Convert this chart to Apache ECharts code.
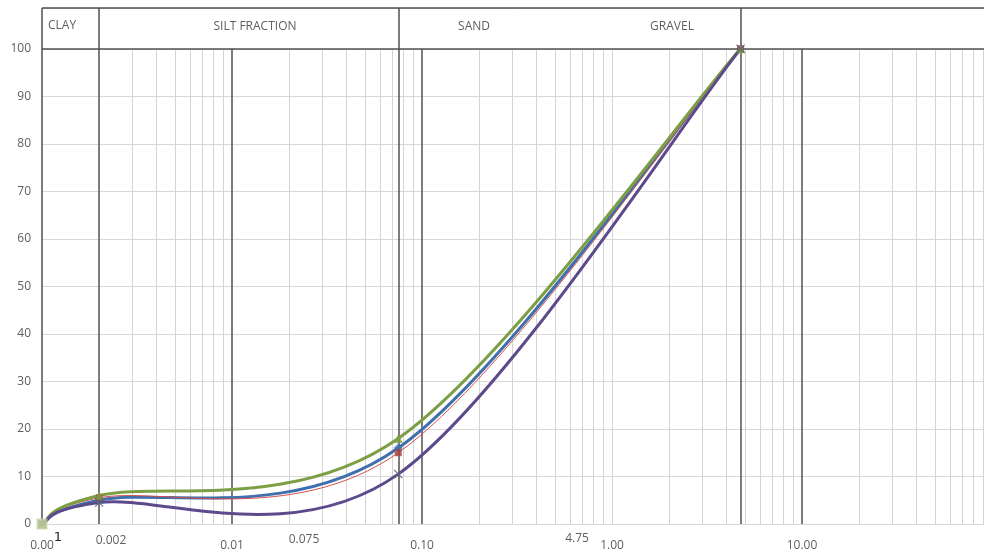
<!DOCTYPE html>
<html><head><meta charset="utf-8">
<script src="https://cdn.jsdelivr.net/npm/echarts@6.0.0/dist/echarts.min.js"></script>
<style>html,body{margin:0;padding:0;background:#fff}#c{width:984px;height:553px}</style>
</head><body><div id="c"></div>
<script>
// ---- data ----
const grainSizes = [0.001, 0.002, 0.075, 4.75];
const sampleBlue = [0, 5, 16, 100];
const sampleRed = [0, 5.5, 15, 100];
const sampleGreen = [0, 6, 18, 100];
const samplePurple = [0, 4.5, 10.5, 100];
const originPoint = [0.001, 0];
const xTickLabels = ['0.00', '0.01', '0.10', '1.00', '10.00', ''];
const extraXLabels = ['1', '0.002', '0.075', '4.75'];
const zoneLabels = ['CLAY', 'SILT FRACTION', 'SAND', 'GRAVEL'];
const zoneBounds = [0.001, 0.002, 0.075, 4.75];
const darkMajor = [0.01, 0.1, 10];
const decades = [0.001, 0.01, 0.1, 1, 10];
const headerTop = 108.6;

// ---- build ----
const pairs = vals => grainSizes.map((x, i) => [x, vals[i]]);
const gridLines = [];
const light = {color: '#d4d4d4', width: 1, type: 'solid'};
const dark = {color: '#505050', width: 1.5, type: 'solid'};
decades.forEach(d => {
  for (let m = 1; m <= 9; m++) {
    const x = +(m * d).toPrecision(3);
    if (zoneBounds.includes(x) || darkMajor.includes(x)) continue;
    gridLines.push([{coord: [x, 0], lineStyle: light}, {coord: [x, 100]}]);
  }
});
gridLines.push([{coord: [100, 0], lineStyle: light}, {coord: [100, 100]}]);
darkMajor.forEach(x => gridLines.push([{coord: [x, 0], lineStyle: dark}, {coord: [x, 100]}]));
zoneBounds.forEach(x => gridLines.push([{coord: [x, 0], lineStyle: dark}, {coord: [x, headerTop]}]));
gridLines.push([{coord: [0.001, 100], lineStyle: dark}, {coord: [100, 100]}]);
gridLines.push([{coord: [0.001, headerTop], lineStyle: dark}, {coord: [100, headerTop]}]);

// Smooth curve (spreadsheet-style cardinal bezier) through the data points, via the axes' scales
function smoothCurve(name, vals, color, width) {
  return {
    name, type: 'custom', data: pairs(vals), z: 3, silent: true, animation: false,
    encode: {x: 0, y: 1},
    renderItem: function (params, api) {
      const n = params.dataInsideLength;
      if (params.dataIndexInside !== 0) return null;
      const P = j => {
        j = Math.max(0, Math.min(n - 1, j));
        return api.coord([api.value(0, j), api.value(1, j)]);
      };
      const s = P(0);
      let d = 'M' + s[0] + ' ' + s[1];
      for (let i = 0; i < n - 1; i++) {
        const p0 = P(i - 1), p1 = P(i), p2 = P(i + 1), p3 = P(i + 2);
        d += ' C' + (p1[0] + (p2[0] - p0[0]) / 6) + ' ' + (p1[1] + (p2[1] - p0[1]) / 6) +
             ' ' + (p2[0] - (p3[0] - p1[0]) / 6) + ' ' + (p2[1] - (p3[1] - p1[1]) / 6) +
             ' ' + p2[0] + ' ' + p2[1];
      }
      return {
        type: 'path',
        shape: {pathData: d},
        style: {stroke: color, lineWidth: width, fill: null, lineJoin: 'round'}
      };
    }
  };
}
const xSym = 'path://M1,0L5,4L9,0L10,1L6,5L10,9L9,10L5,6L1,10L0,9L4,5L0,1Z';
function markers(name, vals, color, symbol, size) {
  return {
    name, type: 'scatter', data: pairs(vals), z: 4, symbol, symbolSize: size,
    itemStyle: {color}, animation: false, silent: true
  };
}

const txt = (text, x, y, align, extra) => ({
  type: 'text', x, y, z: 10,
  style: Object.assign({text, fill: '#5f5f5f', font: '12px "Open Sans"', align: align, verticalAlign: 'middle'}, extra || {})
});

const chart = echarts.init(document.getElementById('c'));
chart.setOption({
  backgroundColor: '#fff',
  animation: false,
  grid: {left: 42, right: -8, top: 8, bottom: 29, outerBoundsMode: 'none', containLabel: false},
  xAxis: {
    type: 'log', logBase: 10, min: 0.001, max: 100, splitNumber: 5,
    axisLine: {show: false}, axisTick: {show: false},
    splitLine: {show: false}, minorSplitLine: {show: false},
    axisLabel: {
      margin: 16, color: '#5f5f5f', fontSize: 12, fontFamily: 'Open Sans',
      formatter: v => xTickLabels[Math.round(Math.log10(v)) + 3] || ''
    }
  },
  yAxis: {
    type: 'value', min: 0, max: headerTop, interval: 10,
    axisLine: {show: false}, axisTick: {show: false},
    splitLine: {lineStyle: {color: '#d9d9d9', width: 1}},
    axisLabel: {
      margin: 11, color: '#5f5f5f', fontSize: 12, fontFamily: 'Open Sans',
      formatter: v => (v <= 100 ? String(v) : '')
    }
  },
  series: [
    {
      type: 'line', data: [], z: 1, silent: true,
      markLine: {z: 1, silent: true, symbol: ['none', 'none'], label: {show: false}, animation: false, data: gridLines}
    },
    smoothCurve('Sample 1', sampleBlue, '#3f70ad', 3),
    smoothCurve('Sample 2', sampleRed, '#d2504e', 1),
    smoothCurve('Sample 3', sampleGreen, '#7c9f45', 3),
    smoothCurve('Sample 4', samplePurple, '#5d4a8c', 3),
    markers('Sample 1', sampleBlue, '#3f70ad', 'diamond', 9),
    markers('Sample 2', sampleRed, '#a8403e', 'rect', 7),
    markers('Sample 3', sampleGreen, '#7c9f45', 'triangle', 9),
    markers('Sample 4', samplePurple, '#56607a', xSym, 9),
    {
      type: 'scatter', data: [originPoint], z: 5, symbol: 'rect', symbolSize: 11,
      itemStyle: {color: '#c4d6a2'}, animation: false, silent: true
    }
  ],
  graphic: [
    txt(extraXLabels[0], 58, 538, 'center', {fill: '#222', font: '13px "DejaVu Sans"'}),
    txt(extraXLabels[1], 111, 541, 'center'),
    txt(extraXLabels[2], 304, 540, 'center'),
    txt(extraXLabels[3], 577, 539, 'center'),
    txt(zoneLabels[0], 48, 26, 'left'),
    txt(zoneLabels[1], 255, 27, 'center'),
    txt(zoneLabels[2], 474, 27, 'center'),
    txt(zoneLabels[3], 672, 27, 'center')
  ]
});
</script>
</body></html>
